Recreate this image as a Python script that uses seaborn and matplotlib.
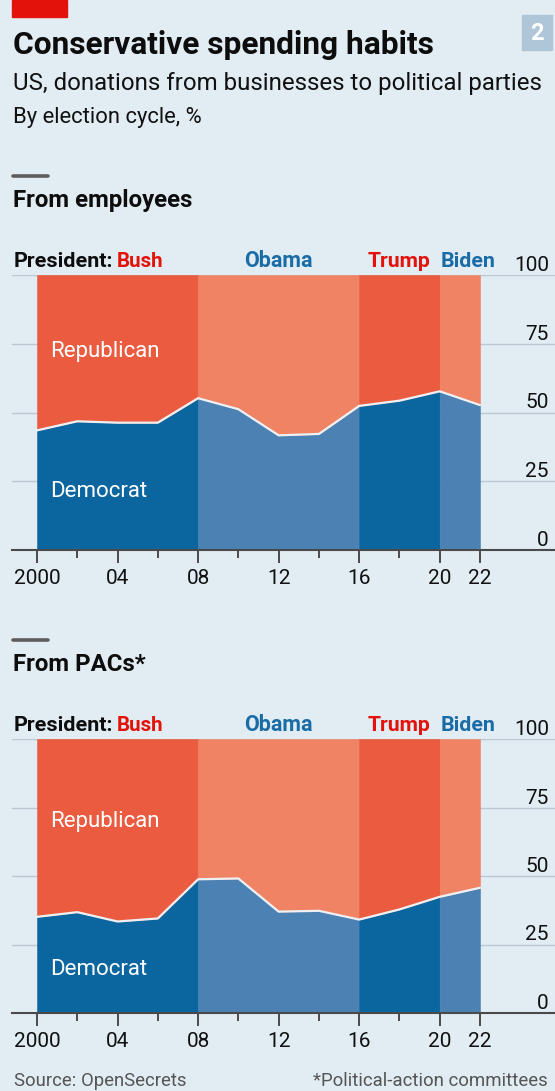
import numpy as np
import pandas as pd
import matplotlib
matplotlib.use("Agg")
import matplotlib.pyplot as plt
import seaborn as sns
from matplotlib.transforms import blended_transform_factory, offset_copy
from matplotlib.patches import Rectangle

# ---------------- data ----------------
years = [2000, 2002, 2004, 2006, 2008, 2010, 2012, 2014, 2016, 2018, 2020, 2022]
employees_dem = [43.5, 46.8, 46.3, 46.3, 55.2, 51.2, 41.7, 42.2, 52.4, 54.3, 57.7, 52.7]
pacs_dem = [35.1, 36.8, 33.4, 34.5, 48.8, 49.1, 37.0, 37.3, 34.1, 37.8, 42.4, 45.7]
presidents = ["Bush", "Obama", "Trump", "Biden"]
term_start = [2000, 2008, 2016, 2020]
term_end = [2008, 2016, 2020, 2022]
president_party = ["R", "D", "R", "D"]
xtick_years = [2000, 2004, 2008, 2012, 2016, 2020, 2022]
xtick_labels = ["2000", "04", "08", "12", "16", "20", "22"]
minor_years = [2002, 2006, 2010, 2014, 2018]
yticks = [0, 25, 50, 75, 100]

# ---------------- style ----------------
BG = "#E2ECF3"
RED_DARK, RED_LIGHT = "#EB5B3F", "#F18365"
BLUE_DARK, BLUE_LIGHT = "#0B66A0", "#4C82B3"
TXT_RED, TXT_BLUE = "#E3120B", "#1A6CA6"
GRID = "#BAC8D3"
AXC = "#4A4A4A"

sns.set_theme(style="white")
plt.rcParams["font.family"] = ["Roboto", "DejaVu Sans"]

W, H = 555, 1091
fig = plt.figure(figsize=(W / 100, H / 100), dpi=100, facecolor=BG)


def fx(px):
    return px / W


def fy(py):
    return 1 - py / H


texts_to_fit = []


def ftext(x, y, s, target_w=None, **kw):
    t = fig.text(fx(x), fy(y), s, va="baseline", **kw)
    if target_w is not None:
        texts_to_fit.append((t, target_w))
    return t


# header
fig.patches.append(Rectangle((fx(12), fy(17)), fx(67) - fx(12), fy(0) - fy(17),
                             transform=fig.transFigure, color="#E3120B", zorder=5))
fig.patches.append(Rectangle((fx(522), fy(50)), fx(552) - fx(522), fy(15) - fy(50),
                             transform=fig.transFigure, color="#AFC6D8", zorder=5))
fig.text(fx(537), fy(33), "2", color="white", fontsize=17, fontweight="bold",
         ha="center", va="center", zorder=6)
ftext(13, 54, "Conservative spending habits", 419, fontsize=20, fontweight="bold", color="#0D0D0D")
ftext(13, 90, "US, donations from businesses to political parties", 529, fontsize=16, color="#111111")
ftext(13, 123, "By election cycle, %", 190, fontsize=14, color="#111111")


def draw_panel(top, bottom, dem, title, title_w):
    ax = fig.add_axes([fx(12), fy(bottom), fx(W) - fx(12), fy(top) - fy(bottom)])
    ax.set_facecolor("none")
    df = pd.DataFrame({"year": years, "dem": dem})
    for i in range(len(presidents)):
        seg = df[(df.year >= term_start[i]) & (df.year <= term_end[i])]
        dark = president_party[i] == "R"
        ax.fill_between(seg.year, 0, seg.dem, color=BLUE_DARK if dark else BLUE_LIGHT,
                        lw=0.4, zorder=2)
        ax.fill_between(seg.year, seg.dem, 100, color=RED_DARK if dark else RED_LIGHT,
                        lw=0.4, zorder=2)
    sns.lineplot(data=df, x="year", y="dem", ax=ax, color="#EDF1F4", lw=1.6, zorder=3)

    ax.set_xlim(2000 - 25 / 20.136, 2000 + 518 / 20.136)
    ax.set_ylim(0, 100)
    ax.set_yticks(yticks[1:])
    ax.grid(axis="y", color=GRID, lw=1.0, zorder=0)
    ax.grid(axis="x", visible=False)
    ax.set_axisbelow(True)
    ax.tick_params(axis="y", length=0, labelleft=False)
    ax.set_xticks(xtick_years, xtick_labels)
    ax.set_xticks(minor_years, minor=True)
    ax.tick_params(axis="x", which="major", length=9, width=1.4, color=AXC, pad=5,
                   labelsize=15, labelcolor="#111111", direction="out", bottom=True)
    ax.tick_params(axis="x", which="minor", length=5.5, width=1.4, color=AXC,
                   direction="out", bottom=True)
    ax.set_xlabel("")
    ax.set_ylabel("")
    for s in ["top", "left", "right"]:
        ax.spines[s].set_visible(False)
    ax.spines["bottom"].set_color(AXC)
    ax.spines["bottom"].set_linewidth(1.5)
    ax.spines["bottom"].set_zorder(4)

    # right-hand value labels above gridlines
    tr = offset_copy(blended_transform_factory(ax.transAxes, ax.transData), fig=fig, y=4, units="dots")
    for v in yticks:
        ax.text((549 - 12) / (W - 12), v, str(v), transform=tr, ha="right", va="baseline",
                fontsize=15, color="#111111", clip_on=False)

    # series labels
    ax.text(2000.65, 70 if dem is employees_dem else 68, "Republican", color="white",
            fontsize=16, va="baseline", zorder=5)
    ax.text(2000.65, 19.3 if dem is employees_dem else 14, "Democrat", color="white",
            fontsize=16, va="baseline", zorder=5)

    # section header
    fig.add_artist(plt.Line2D([fx(13), fx(48)], [fy(top - 99), fy(top - 99)], color="#5E5E5E",
                              lw=2.6, transform=fig.transFigure))
    ftext(13, top - 68, title, title_w, fontsize=16, fontweight="bold", color="#0D0D0D")
    # president row
    base = top - 8
    ftext(13.5, base, "President:", 99, fontsize=13, fontweight="bold", color="#0D0D0D")
    pres_x = [116.8, 244, 368, 440.7]
    pres_w = [46.7, 68.6, 62.8, 54.9]
    for i, p in enumerate(presidents):
        ftext(pres_x[i], base, p, pres_w[i], fontsize=13, fontweight="bold",
              color=TXT_RED if president_party[i] == "R" else TXT_BLUE)
    return ax


ax1 = draw_panel(275, 550, employees_dem, "From employees", 181)
ax2 = draw_panel(739, 1013, pacs_dem, "From PACs*", None)

ftext(13.5, 1086, "Source: OpenSecrets", 172, fontsize=13, color="#555555")
ftext(548, 1086, "*Political-action committees", 235, fontsize=13, color="#555555", ha="right")

# fit text widths
fig.canvas.draw()
r = fig.canvas.get_renderer()
for t, w in texts_to_fit:
    cur = t.get_window_extent(r).width
    t.set_fontsize(t.get_fontsize() * w / cur)
fig.canvas.draw()
# make "From PACs*" match "From employees" size
hdrs = [t for t in fig.texts if t.get_text() in ("From employees", "From PACs*")]
if len(hdrs) == 2:
    hdrs[1].set_fontsize(hdrs[0].get_fontsize())

fig.savefig("out.png", dpi=100, facecolor=BG)
